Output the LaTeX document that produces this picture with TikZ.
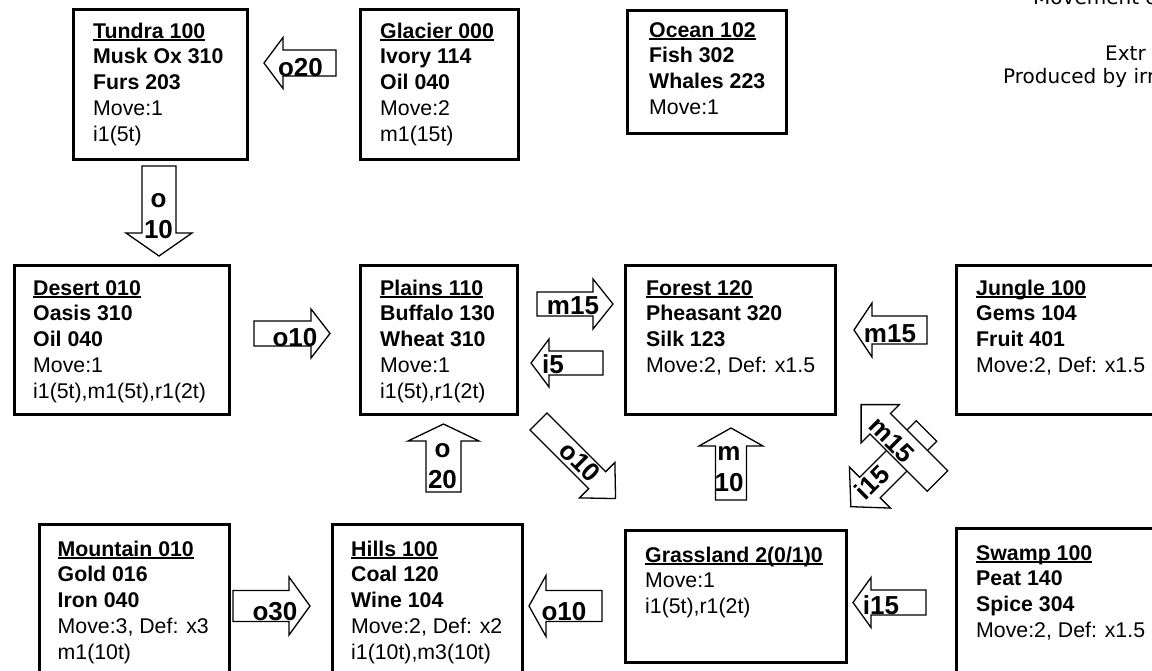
\documentclass[tikz,border=0pt]{standalone}
\usepackage{fontspec}
\setmainfont{Liberation Sans}
\newfontfamily\notefont{DejaVu Sans}
\newcommand\hd[1]{\setbox0\hbox{\bfseries #1}\rlap{\rule[-3.2pt]{\wd0}{2.2pt}}\box0}
\newcommand\ttab[1]{\begin{tabular}[t]{@{}l@{}}#1\end{tabular}}
\newcommand\ctab[1]{\begin{tabular}[t]{@{}c@{}}#1\end{tabular}}
% tail, angle, length, shaft half width, head half width, head length
\newcommand\blockarr[6]{%
  \begin{scope}[shift={#1},rotate=#2]
    \draw[arr] (0,-#4) -- ({#3-#6},-#4) -- ({#3-#6},-#5) -- (#3,0) -- ({#3-#6},#5) -- ({#3-#6},#4) -- (0,#4) -- cycle;
  \end{scope}}
\begin{document}
\begin{tikzpicture}[x=1pt,y=-1pt,
  box/.style={draw, line width=3pt, inner sep=0pt, anchor=north west},
  arr/.style={draw, fill=white, line width=1.3pt, line join=miter},
  txt/.style={inner sep=0pt, anchor=base west, font=\fontsize{21.3}{25.8}\selectfont},
  lab/.style={inner sep=0pt, font=\fontsize{26}{31}\selectfont\bfseries},
  note/.style={inner sep=0pt, anchor=base west, font=\notefont\fontsize{20}{24}\selectfont}]
\useasboundingbox (0,0) rectangle (1152,670);

% boxes
\node[box, minimum width=174pt, minimum height=150pt] (tundra) at (71.5,7.5) {};
\node[box, minimum width=158pt, minimum height=150pt] (glacier) at (358.5,7.5) {};
\node[box, minimum width=159pt, minimum height=123pt] (ocean) at (625.5,8.5) {};
\node[box, minimum width=215pt, minimum height=149pt] (desert) at (12.5,263.5) {};
\node[box, minimum width=157pt, minimum height=149pt] (plains) at (358.5,263.5) {};
\node[box, minimum width=210pt, minimum height=149pt] (forest) at (623.5,263.5) {};
\node[box, minimum width=230pt, minimum height=149pt] (jungle) at (954.5,263.5) {};
\node[box, minimum width=190pt, minimum height=180pt] (mountain) at (37.5,522.5) {};
\node[box, minimum width=190pt, minimum height=180pt] (hills) at (330.5,522.5) {};
\node[box, minimum width=221pt, minimum height=132pt] (grassland) at (623.5,528.5) {};
\node[box, minimum width=230pt, minimum height=180pt] (swamp) at (954.5,526.5) {};

% box texts
\node[txt] (tundraT) at (93,38) {\ttab{\hd{Tundra 100}\\\textbf{Musk Ox 310}\\\textbf{Furs 203}\\Move:1\\i1(5t)}};
\node[txt] (glacierT) at (380,38) {\ttab{\hd{Glacier 000}\\\textbf{Ivory 114}\\\textbf{Oil 040}\\Move:2\\m1(15t)}};
\node[txt] (oceanT) at (649,37) {\ttab{\hd{Ocean 102}\\\textbf{Fish 302}\\\textbf{Whales 223}\\Move:1}};
\node[txt] (desertT) at (33,295) {\ttab{\hd{Desert 010}\\\textbf{Oasis 310}\\\textbf{Oil 040}\\Move:1\\i1(5t),m1(5t),r1(2t)}};
\node[txt] (plainsT) at (380,295) {\ttab{\hd{Plains 110}\\\textbf{Buffalo 130}\\\textbf{Wheat 310}\\Move:1\\i1(5t),r1(2t)}};
\node[txt] (forestT) at (646,295) {\ttab{\hd{Forest 120}\\\textbf{Pheasant 320}\\\textbf{Silk 123}\\Move:2, Def: x1.5}};
\node[txt] (jungleT) at (976,295) {\ttab{\hd{Jungle 100}\\\textbf{Gems 104}\\\textbf{Fruit 401}\\Move:2, Def: x1.5}};
\node[txt] (mountainT) at (57.5,556) {\ttab{\hd{Mountain 010}\\\textbf{Gold 016}\\\textbf{Iron 040}\\Move:3, Def: x3\\m1(10t)}};
\node[txt] (hillsT) at (351,556) {\ttab{\hd{Hills 100}\\\textbf{Coal 120}\\\textbf{Wine 104}\\Move:2, Def: x2\\i1(10t),m3(10t)}};
\node[txt] (grasslandT) at (645,562) {\ttab{\hd{Grassland 2(0/1)0}\\Move:1\\i1(5t),r1(2t)}};
\node[txt] (swampT) at (976,560) {\ttab{\hd{Swamp 100}\\\textbf{Peat 140}\\\textbf{Spice 304}\\Move:2, Def: x1.5}};

% block arrows
\blockarr{(336,63)}{180}{72}{13}{25.5}{19}
\node[lab, anchor=base] (l1) at (300.5,76) {o20};
\blockarr{(159,166)}{-90}{90}{17}{33}{23}
\node[lab, anchor=base] (l2) at (158.5,207) {\ctab{o\\10}};
\blockarr{(254,333.5)}{0}{76}{12.5}{24.5}{19}
\node[lab, anchor=base] (l3) at (295,346) {o10};
\blockarr{(537,304)}{0}{76}{12}{25}{20}
\node[lab, anchor=base] (l4) at (573,314) {m15};
\blockarr{(603,363)}{180}{72}{12}{24}{18}
\node[lab, anchor=base] (l5) at (553,373) {i5};
\blockarr{(443.5,492)}{90}{68}{17.5}{35.5}{17}
\node[lab, anchor=base] (l6) at (442.5,457) {\ctab{o\\20}};
\blockarr{(538.5,421.5)}{-45}{109}{12}{25}{26}
\node[lab, rotate=-45] (l7) at (580,462) {o10};
\blockarr{(731,500)}{90}{72}{15.5}{32}{18}
\node[lab, anchor=base] (l8) at (729,460) {\ctab{m\\10}};
\blockarr{(927,330)}{180}{73}{14}{27}{18}
\node[lab, anchor=base] (l9) at (890,342) {m15};
\blockarr{(926.5,431)}{-135}{107}{14.5}{29}{27}
\node[lab, rotate=45] (l11) at (872,482) {i15};
\blockarr{(937.5,481)}{135}{108}{14.5}{27}{27}
\node[lab, rotate=-45] (l10) at (892,440) {m15};
\blockarr{(926,602.5)}{180}{73}{12.5}{25}{18}
\node[lab, anchor=base] (l12) at (881,614) {i15};
\blockarr{(602,606)}{180}{73}{15.5}{30.5}{17}
\node[lab, anchor=base] (l13) at (564,620) {o10};
\blockarr{(233,606)}{0}{77}{15.5}{29}{21}
\node[lab, anchor=base] (l14) at (275,620) {o30};

% notes top right (cut by the page edge)
\node[note] (n1) at (1033,4) {Movement o};
\node[note] (n2) at (1105,60) {Extr};
\node[note] (n3) at (1003,83) {Produced by irr};
\end{tikzpicture}
\end{document}
